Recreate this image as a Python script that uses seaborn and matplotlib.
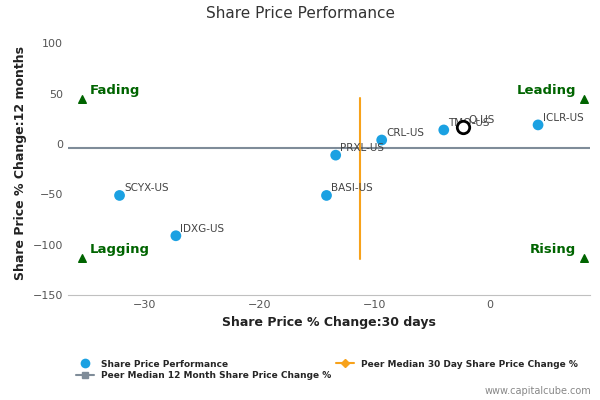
import matplotlib
matplotlib.use("Agg")
import matplotlib.pyplot as plt
import seaborn as sns
import pandas as pd
from matplotlib.lines import Line2D

names = ["SCYX-US", "IDXG-US", "BASI-US", "PRXL-US", "CRL-US", "TMO-US", "ICLR-US"]
x30 = [-32.2, -27.3, -14.2, -13.4, -9.4, -4.0, 4.2]
y12 = [-51, -91, -51, -11, 4, 14, 19]
focus_name = "Q-US"
focus_x, focus_y = -2.3, 17
peer_median_30 = -11.3
peer_median_12 = -4
orange_span = [-114, 46]
corner_x = [-35.5, 8.2, -35.5, 8.2]
corner_y = [45, 45, -113, -113]

sns.set_style("white")
fig = plt.figure(figsize=(6, 4), dpi=100)
ax = fig.add_axes([0.113, 0.262, 0.87, 0.66])
df = pd.DataFrame({"x": x30, "y": y12, "n": names})
sns.scatterplot(data=df, x="x", y="y", ax=ax, s=60, color="#1ba1e2", edgecolor="none", zorder=3)
for xi, yi, n in zip(x30, y12, names):
    ax.text(xi + 0.4, yi + 4, n, fontsize=7.5, color="#444444")
ax.scatter([focus_x], [focus_y], s=80, facecolor="white", edgecolor="black", linewidth=2, zorder=4)
ax.text(focus_x + 0.4, focus_y + 4, focus_name, fontsize=7.5, color="#444444")
ax.axhline(peer_median_12, color="#7f8c99", lw=1.5, zorder=1)
ax.plot([peer_median_30, peer_median_30], orange_span, color="#f7a21b", lw=1.5, zorder=2)
ax.scatter(corner_x, corner_y, marker="^", color="#006400", s=30, zorder=3)
kw = dict(color="#006400", fontsize=9.5, fontweight="bold")
ax.text(-34.8, 50, "Fading", **kw)
ax.text(7.5, 50, "Leading", ha="right", **kw)
ax.text(-34.8, -108, "Lagging", **kw)
ax.text(7.5, -108, "Rising", ha="right", **kw)
ax.set_xlim(-36.7, 8.7)
ax.set_ylim(-150, 112)
ax.set_xticks([-30, -20, -10, 0])
ax.set_yticks([-150, -100, -50, 0, 50, 100])
ax.tick_params(labelsize=8, colors="#555555", length=0)
ax.set_xlabel("Share Price % Change:30 days", fontsize=9, fontweight="bold", color="#222222")
ax.set_ylabel("Share Price % Change:12 months", fontsize=9, fontweight="bold", color="#222222")
for s in ["top", "right", "left"]:
    ax.spines[s].set_visible(False)
ax.spines["bottom"].set_color("#c0c0c0")
fig.text(0.5, 0.955, "Share Price Performance", ha="center", fontsize=11, color="#333333")
handles = [
    Line2D([], [], marker="o", color="none", markerfacecolor="#1ba1e2", markeredgecolor="none", markersize=7),
    Line2D([], [], marker="s", color="#7f8c99", markersize=5, lw=1.5),
    Line2D([], [], marker="D", color="#f7a21b", markersize=4, lw=1.5),
]
labels = ["Share Price Performance", "Peer Median 12 Month Share Price Change %",
          "Peer Median 30 Day Share Price Change %"]
fig.legend(handles, labels, loc="upper left", bbox_to_anchor=(0.12, 0.11), ncol=2, frameon=False,
           handlelength=2, columnspacing=0.5, labelspacing=0.3, borderaxespad=0,
           prop={"weight": "bold", "size": 6.5})
fig.text(0.985, 0.015, "www.capitalcube.com", ha="right", fontsize=7, color="#888888")
fig.savefig("out.png", dpi=100)
